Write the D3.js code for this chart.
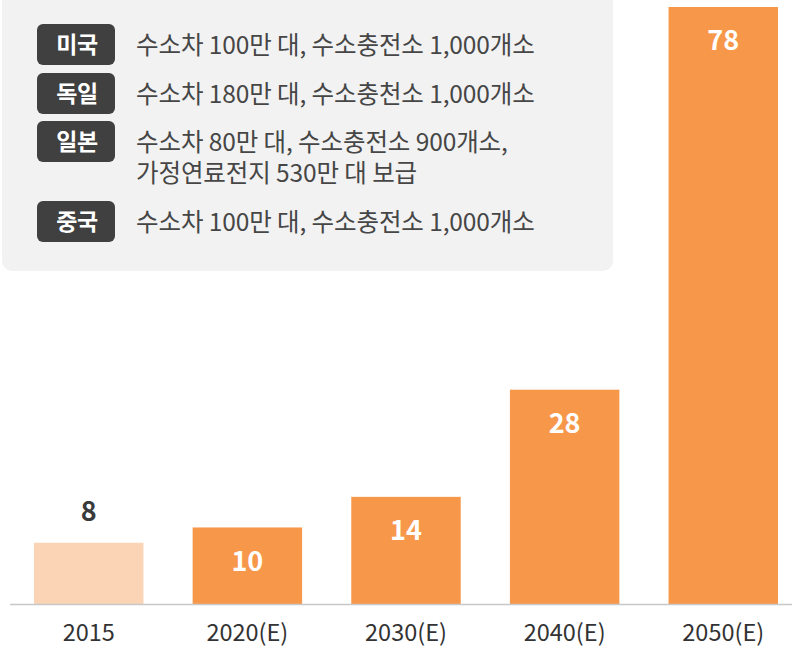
<!DOCTYPE html>
<html>
<head>
<meta charset="utf-8">
<script src="https://cdn.jsdelivr.net/npm/d3@7"></script>
<style>
  body { margin: 0; background: #fff; }
  svg { display: block; font-family: "Noto Sans CJK KR", "Noto Sans", sans-serif; }
</style>
</head>
<body>
<svg id="canvas" width="792" height="647"></svg>
<script>
let years = ['2015', '2020(E)', '2030(E)', '2040(E)', '2050(E)']
let values = [8, 10, 14, 28, 78]

let countries = ['미국', '독일', '일본', '중국']
let notes = [
    ['수소차 100만 대, 수소충전소 1,000개소'],
    ['수소차 180만 대, 수소충천소 1,000개소'],
    ['수소차 80만 대, 수소충전소 900개소,', '가정연료전지 530만 대 보급'],
    ['수소차 100만 대, 수소충전소 1,000개소']
]

let canvas = d3.select('#canvas')

// 범례 박스
let badgeTop = [24, 73, 121, 201]

canvas.append('rect')
    .attr('x', 2).attr('y', -12)
    .attr('width', 611).attr('height', 283)
    .attr('rx', 10)
    .style('fill', '#f2f2f2')

let legend = canvas.selectAll('.legend')
    .data(countries)
    .enter().append('g')
    .attr('class', 'legend')
    .attr('transform', (d, i) => 'translate(0,' + badgeTop[i] + ')')

legend.append('rect')
    .attr('x', 37).attr('width', 78).attr('height', 41)
    .attr('rx', 6)
    .style('fill', '#404040')

legend.append('text')
    .attr('x', 77).attr('y', 21)
    .attr('dy', '0.35em')
    .attr('text-anchor', 'middle')
    .style('fill', '#fff')
    .style('font-size', '23px')
    .style('font-weight', 'bold')
    .style('letter-spacing', '-0.5px')
    .text(d => d)

legend.each(function(d, i) {
    d3.select(this).selectAll('.note')
        .data(notes[i])
        .enter().append('text')
        .attr('x', 136)
        .attr('y', (t, j) => 21 + j * 31)
        .attr('dy', '0.35em')
        .style('fill', '#464646')
        .style('font-size', '24.5px')
        .style('letter-spacing', '-0.1px')
        .text(t => t)
})

// 막대
let x = d3.scaleBand()
    .domain(years)
    .range([34, 778])
    .paddingInner(0.31)
    .paddingOuter(0)

let y = d3.scaleLinear()
    .domain([0, 78])
    .range([604, 7])

canvas.selectAll('.bar')
    .data(values)
    .enter().append('rect')
    .attr('class', 'bar')
    .attr('x', (d, i) => x(years[i]))
    .attr('y', d => y(d))
    .attr('width', x.bandwidth())
    .attr('height', d => y(0) - y(d))
    .style('fill', (d, i) => i == 0 ? '#fbd4b5' : '#f7974a')

canvas.selectAll('.val')
    .data(values)
    .enter().append('text')
    .attr('class', 'val')
    .attr('x', (d, i) => x(years[i]) + x.bandwidth() / 2)
    .attr('y', (d, i) => i == 0 ? y(d) - 31 : y(d) + 34)
    .attr('dy', '0.35em')
    .attr('text-anchor', 'middle')
    .style('fill', (d, i) => i == 0 ? '#3a3a3a' : '#fff')
    .style('font-size', '27px')
    .style('font-weight', 'bold')
    .text(d => d)

// 기준선
canvas.append('line')
    .attr('x1', 10).attr('x2', 792)
    .attr('y1', y(0) + 0.5).attr('y2', y(0) + 0.5)
    .style('stroke', '#c8c8c8')
    .style('stroke-width', 1.5)

let xAxis = d3.axisBottom(x).tickSize(0).tickPadding(20)
let ax = canvas.append('g')
    .attr('transform', 'translate(0,' + y(0) + ')')
    .call(xAxis)
ax.select('.domain').remove()
ax.selectAll('text')
    .style('font-family', '"Noto Sans CJK KR", "Noto Sans", sans-serif')
    .style('font-size', '23.5px')
    .style('fill', '#333')
</script>
</body>
</html>
